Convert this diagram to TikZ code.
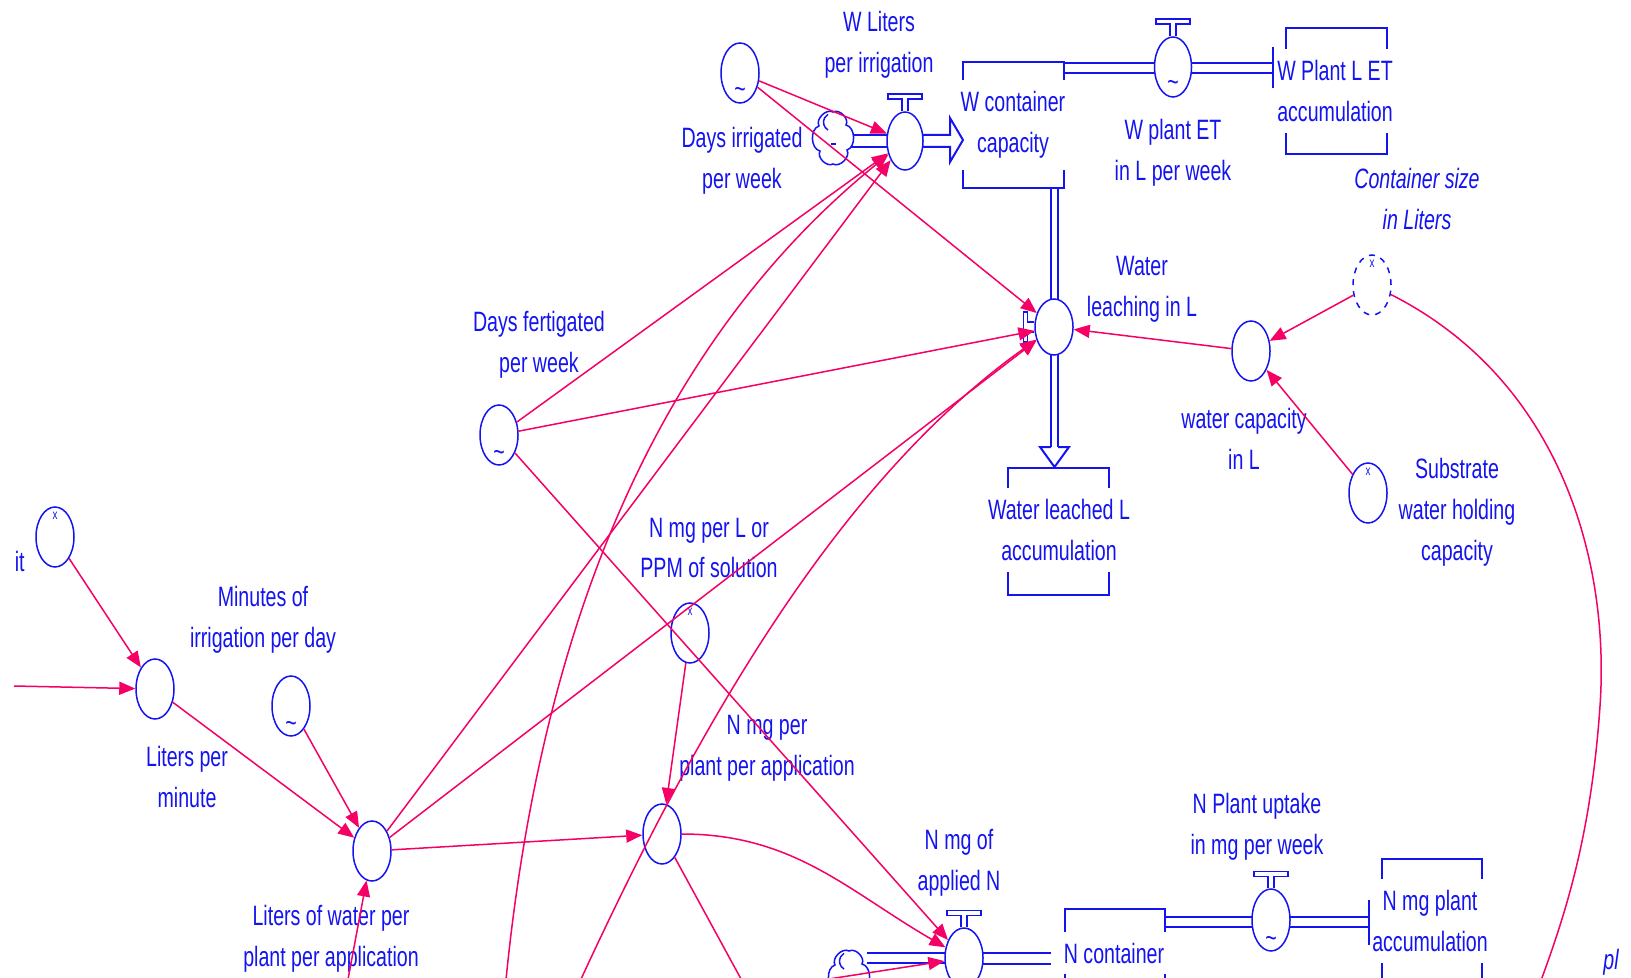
\documentclass[tikz,border=0pt]{standalone}
\usepackage{fontspec}
\setmainfont{Liberation Sans}[FakeStretch=0.7]
\usetikzlibrary{shapes.geometric,arrows.meta}
\definecolor{vblue}{RGB}{20,20,240}
\definecolor{vpink}{RGB}{245,0,100}
\newcommand\valvetop[1]{\draw[vblue,line width=0.75pt] ([xshift=-1.5pt]#1.north) -- ++(0,-12) -- ++(-14,0) -- ++(0,-5) -- ++(34,0) -- ++(0,5) -- ++(-14,0) -- ++(0,12);}
\newcommand\vcloud[1]{\begin{scope}[shift={(#1)}]
  \draw[vblue,line width=0.75pt,fill=white] (0,-26) to[bend left=75] (13,-13) to[bend left=75] (14,12) to[bend left=75] (0,26) to[bend left=75] (-13,13) to[bend left=75] (-14,-12) to[bend left=75] (0,-26) -- cycle;
  \draw[vblue,line width=0.75pt] (-5,-8) arc[start angle=120,end angle=240,radius=9];
  \draw[vblue,line width=0.75pt] (-2,6) -- (3,6);
\end{scope}}
\begin{document}
\begin{tikzpicture}[x=0.5pt,y=-0.5pt,
  lbl/.style={text=vblue,font=\fontsize{14}{20.5}\selectfont,align=center,inner sep=0pt},
  stocklbl/.style={lbl,fill=white,inner xsep=1pt,inner ysep=5.5pt},
  auxv/.style={ellipse,draw=vblue,line width=0.75pt,minimum width=19pt,minimum height=30pt,inner sep=0pt},
  shadowvar/.style={auxv,dashed},
  stockbox/.style={rectangle,draw=vblue,line width=1pt,inner sep=0pt,minimum width=50.5pt,minimum height=63pt},
  pipeln/.style={draw=vblue,line width=1pt},
  conn/.style={draw=vpink,line width=0.75pt,-{Triangle[length=8pt,width=6.5pt]}},
  connplain/.style={draw=vpink,line width=0.75pt},
  tmk/.style={text=vblue,font=\fontsize{14}{14}\selectfont,inner sep=0pt},
  xmk/.style={text=vblue,font=\fontsize{7}{7}\selectfont,inner sep=0pt}
]
\useasboundingbox (0,0) rectangle (1631,978);
\fill[white] (0,0) rectangle (1631,978);
\clip (0,0) rectangle (1631,978);

% ---------- stocks ----------
\node[stockbox] (wcont) at (1013.5,125) {};
\node[stockbox] (wplant) at (1336.5,91) {};
\node[stockbox,minimum height=63.5pt] (wleached) at (1058.5,531.5) {};
\node[stockbox,minimum width=50pt] (ncont) at (1115,972) {};
\node[stockbox,minimum width=50pt] (nmgplant) at (1432,922) {};

\node[stocklbl] (Lwcont) at (1013,125) {W container\\capacity};
\node[stocklbl] (Lwplant) at (1335,91) {W Plant L ET\\accumulation};
\node[stocklbl] (Lwleached) at (1059,530) {Water leached L\\accumulation};
\node[stocklbl] (Lncont) at (1114,953) {N container};
\node[stocklbl] (Lnmg) at (1430,921) {N mg plant\\accumulation};

% ---------- pipes ----------
\draw[pipeln] (850,135) -- (887,135) (850,147) -- (887,147);
\draw[pipeln] (923,135) -- (950,135) -- (950,118) -- (963,140) -- (950,162) -- (950,147) -- (923,147);
\draw[pipeln] (1064,63) -- (1155,63) (1064,73) -- (1155,73);
\draw[pipeln] (1191,63) -- (1273,63) (1191,73) -- (1273,73);
\draw[pipeln] (1273,47) -- (1273,88);
\draw[pipeln] (1051,188) -- (1051,300) (1058,188) -- (1058,300);
\draw[pipeln] (1051,355) -- (1051,447) (1058,355) -- (1058,447);
\draw[pipeln] (1051,447) -- (1040,447) -- (1054.5,467) -- (1069,447) -- (1058,447);
\draw[pipeln] (867,953) -- (945,953) (867,963) -- (945,963);
\draw[pipeln] (983,953) -- (1051,953) (983,964) -- (1051,964);
\draw[pipeln] (1165,917) -- (1252,917) (1165,927) -- (1252,927);
\draw[pipeln] (1290,917) -- (1369,917) (1290,927) -- (1369,927);
\draw[pipeln] (1369,900) -- (1369,945);

% ---------- clouds ----------
\coordinate (wcloud) at (833,138);
\coordinate (ncloud) at (849,977);
\vcloud{wcloud}
\vcloud{ncloud}

% ---------- valves ----------
\node[auxv,fill=white,minimum width=18pt,minimum height=29pt] (wlv) at (905,141) {};
\node[auxv,fill=white,minimum width=18.5pt] (wet) at (1173,67) {};
\node[auxv,fill=white,minimum height=28pt] (wleach) at (1054,327) {};
\node[auxv,fill=white] (napp) at (964,958) {};
\node[auxv,fill=white,minimum height=31pt] (nup) at (1271,920) {};
\valvetop{wlv}
\valvetop{wet}
\valvetop{napp}
\valvetop{nup}
\draw[vblue,line width=0.75pt] ([yshift=2.5pt]wleach.west) -- ++(-7,0) -- ++(0,-10) -- ++(-4,0) -- ++(0,30) -- ++(4,0) -- ++(0,-10) -- ++(7,0);
\node[tmk] (twet) at ([yshift=6pt]wet.south) {\textasciitilde};
\node[tmk] (tnup) at ([yshift=5pt]nup.south) {\textasciitilde};

% ---------- auxiliaries ----------
\node[auxv] (ait) at (55,537) {};
\node[auxv] (lpm) at (155,689) {};
\node[auxv] (minutes) at (291,706) {};
\node[auxv] (lwp) at (372,851) {};
\node[auxv] (dfert) at (499,435) {};
\node[auxv] (nppm) at (690,633) {};
\node[auxv] (nplant) at (662,834) {};
\node[auxv] (dirr) at (740,73) {};
\node[auxv] (wcap) at (1251,351) {};
\node[shadowvar] (csize) at (1372,285) {};
\node[auxv] (subs) at (1368,493) {};

\node[xmk] (xait) at ([yshift=-5pt]ait.north) {x};
\node[xmk] (xnppm) at ([yshift=-5pt]nppm.north) {x};
\node[xmk] (xcsize) at ([yshift=-5pt]csize.north) {x};
\node[xmk] (xsubs) at ([yshift=-5pt]subs.north) {x};
\node[tmk] (tdirr) at ([yshift=5.5pt]dirr.south) {\textasciitilde};
\node[tmk] (tmin) at ([yshift=5pt]minutes.south) {\textasciitilde};
\node[tmk] (tdfert) at ([yshift=5pt]dfert.south) {\textasciitilde};

% ---------- labels ----------
\node[lbl,anchor=east] (Lit) at (25,561) {it};
\node[lbl] (Llpm) at (187,777) {Liters per\\minute};
\node[lbl] (Lmin) at (263,620) {Minutes of\\irrigation per day};
\node[lbl] (Llwp) at (331,939) {Liters of water per\\plant per application};
\node[lbl] (Ldfert) at (539,345) {Days fertigated\\per week};
\node[lbl] (Lnppm) at (709,548) {N mg per L or\\PPM of solution};
\node[lbl] (Lnplant) at (767,748) {N mg per\\plant per application};
\node[lbl] (Ldirr) at (742,161) {Days irrigated\\per week};
\node[lbl] (Lwlv) at (879,45) {W Liters\\per irrigation};
\node[lbl] (Lwet) at (1173,153) {W plant ET\\in L per week};
\node[lbl,font=\fontsize{14}{20.5}\selectfont\itshape] (Lcsize) at (1417,199) {Container size\\in Liters};
\node[lbl] (Lwleach) at (1142,289) {Water\\leaching in L};
\node[lbl] (Lwcap) at (1244,439) {water capacity\\in L};
\node[lbl] (Lsubs) at (1457,512) {Substrate\\water holding\\capacity};
\node[lbl] (Lnapp) at (959,863) {N mg of\\applied N};
\node[lbl] (Lnup) at (1257,827) {N Plant uptake\\in mg per week};
\node[lbl,anchor=west,font=\fontsize{14}{20.5}\selectfont\itshape] (Lpl) at (1603,962) {pl};

% ---------- free ends ----------
\coordinate (offL) at (14,686);
\coordinate (offA) at (346,990);
\coordinate (offB) at (505,990);
\coordinate (offC) at (576,990);
\coordinate (offI) at (747,990);
\coordinate (offE) at (790,985);
\coordinate (arcmid) at (1600,706);
\coordinate (offD) at (1530,1010);

% ---------- connectors ----------
\draw[conn] (dirr) -- (wlv);
\draw[conn] (dirr) -- (wleach);
\draw[conn] (dfert) -- (wlv);
\draw[conn] (dfert) -- (wleach);
\draw[conn] (dfert) -- (napp);
\draw[conn] (lwp) -- (wlv);
\draw[conn] (lwp) -- (wleach);
\draw[conn] (lwp) -- (nplant);
\draw[conn] (nppm) -- (nplant);
\draw[conn] (nplant) to[out=0,in=150] (napp);
\draw[connplain] (nplant) -- (offI);
\draw[conn] (ait) -- (lpm);
\draw[conn] (offL) -- (lpm);
\draw[conn] (lpm) -- (lwp);
\draw[conn] (minutes) -- (lwp);
\draw[conn] (offA) -- (lwp);
\draw[conn] (offB) .. controls (540,620) and (660,340) .. (wlv);
\draw[conn] (offC) .. controls (700,720) and (840,480) .. (wleach);
\draw[conn] (wcap) -- (wleach);
\draw[conn] (csize) -- (wcap);
\draw[conn] (subs) -- (wcap);
\draw[connplain] (csize) .. controls (1560,380) and (1610,560) .. (arcmid) .. controls (1590,850) and (1560,930) .. (offD);
\draw[conn] (offE) -- (napp);
\end{tikzpicture}
\end{document}
